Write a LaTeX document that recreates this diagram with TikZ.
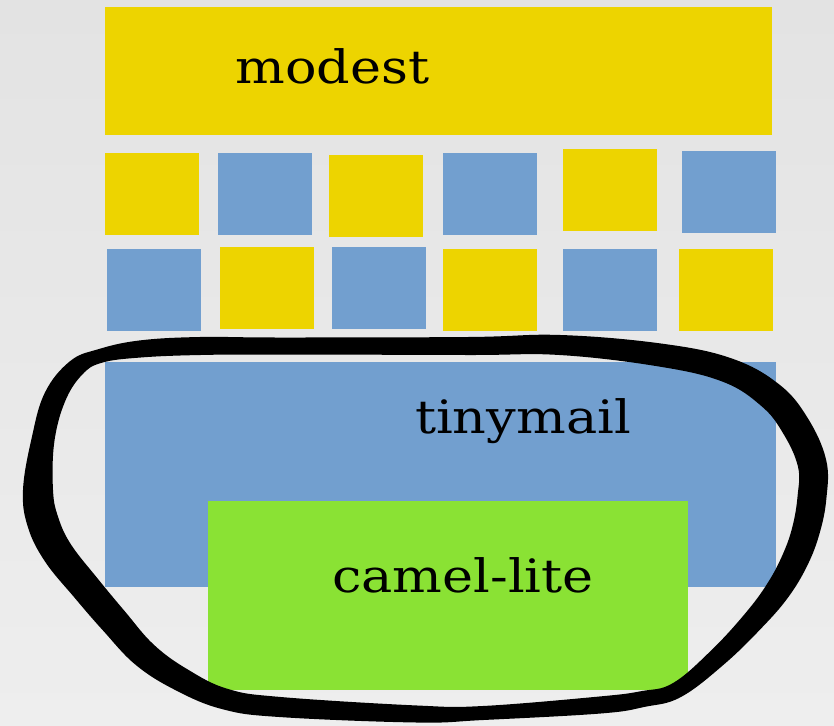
\documentclass[tikz,border=0pt]{standalone}
\usepackage{fontspec}
\setmainfont{DejaVu Serif}
\newfontfamily\lblfont[FakeStretch=1.14]{DejaVu Serif}
\definecolor{yel}{HTML}{EDD400}
\definecolor{blu}{HTML}{729FCF}
\definecolor{grn}{HTML}{8AE234}
\definecolor{bgtop}{HTML}{E3E3E3}
\definecolor{bgbot}{HTML}{EEEEEE}
\begin{document}
\begin{tikzpicture}[x=1pt,y=-1pt,
  rect/.style={draw=none,inner sep=0pt,outer sep=0pt,rectangle},
  sq/.style={rect,minimum width=94pt,minimum height=82pt},
  lbl/.style={inner sep=0pt,anchor=base,font=\lblfont\fontsize{46}{50}\selectfont,text=black},
  loopfill/.style={fill=black,even odd rule}]
\useasboundingbox (0,0) rectangle (834,725);
\fill[top color=bgtop,bottom color=bgbot] (0,0) rectangle (834,725);
% top box
\node[rect,fill=yel,minimum width=667pt,minimum height=128pt] (modestbox) at (438.5,71) {};
\node[lbl] (modest) at (332.5,83) {modest};
% row 1
\node[sq,fill=yel] (a1) at (151.5,194) {};
\node[sq,fill=blu] (a2) at (265,194) {};
\node[sq,fill=yel] (a3) at (376,196) {};
\node[sq,fill=blu] (a4) at (490,194) {};
\node[sq,fill=yel] (a5) at (609.5,189.5) {};
\node[sq,fill=blu] (a6) at (728.5,192) {};
% row 2
\node[sq,fill=blu] (b1) at (154,289.5) {};
\node[sq,fill=yel] (b2) at (267,287.5) {};
\node[sq,fill=blu] (b3) at (378.5,287.5) {};
\node[sq,fill=yel] (b4) at (490,289.5) {};
\node[sq,fill=blu] (b5) at (610,289.5) {};
\node[sq,fill=yel] (b6) at (725.5,289.5) {};
% tinymail
\node[rect,fill=blu,minimum width=671pt,minimum height=225pt] (tinybox) at (440.5,474.5) {};
\node[lbl] (tinymail) at (523,433) {tinymail};
% camel-lite
\node[rect,fill=grn,minimum width=480pt,minimum height=189pt] (camelbox) at (448,595.5) {};
\node[lbl] (camel) at (463,592) {camel-lite};
% hand-drawn loop: a brush stroke of varying width
\fill[loopfill]
 plot[smooth cycle,tension=0.65] coordinates {
 (468,337) (560.5,335) (661.7,343.6) (731.3,358.3) (778.8,384.1) (807.3,417.4)
 (826.1,459.7) (826.4,498.3) (819.5,533.6) (807.2,565.7) (788.3,597.1)
 (762.2,627.3) (724.4,664.0) (680.9,697.0) (644.5,706.9) (600.7,713.5)
 (483.3,720) (416.7,722.5) (279.2,717) (222.2,709.1) (176.2,690.5)
 (136.1,665.2) (103.1,630.6) (74.4,597.5) (45.0,561.5) (27.8,526.8)
 (23,490) (31.7,437.9) (45.0,392.4) (69.9,361.3) (98.0,349.3)
 (139.2,340.5) (199.7,337) (280,337.5)}
 plot[smooth cycle,tension=0.65] coordinates {
 (468,355) (559.5,355) (658.3,366.4) (722.7,381.7) (761.2,405.9) (782.7,432.6)
 (797.9,466.3) (797.6,495.7) (792.5,526.4) (782.8,554.3) (767.7,582.9)
 (745.8,612.7) (711.6,650.0) (673.1,683.0) (641.5,691.1) (599.3,696.5)
 (482.7,706) (417.3,705.5) (280.8,697) (227.8,688.9) (187.8,669.5)
 (153.9,644.8) (124.9,611.4) (97.6,578.5) (71.0,544.5) (58.2,517.2)
 (53,490) (54.3,442.1) (65.0,401.6) (82.1,374.7) (102.0,362.7)
 (140.8,357.5) (200.3,355) (280,354.5)};
\end{tikzpicture}
\end{document}
